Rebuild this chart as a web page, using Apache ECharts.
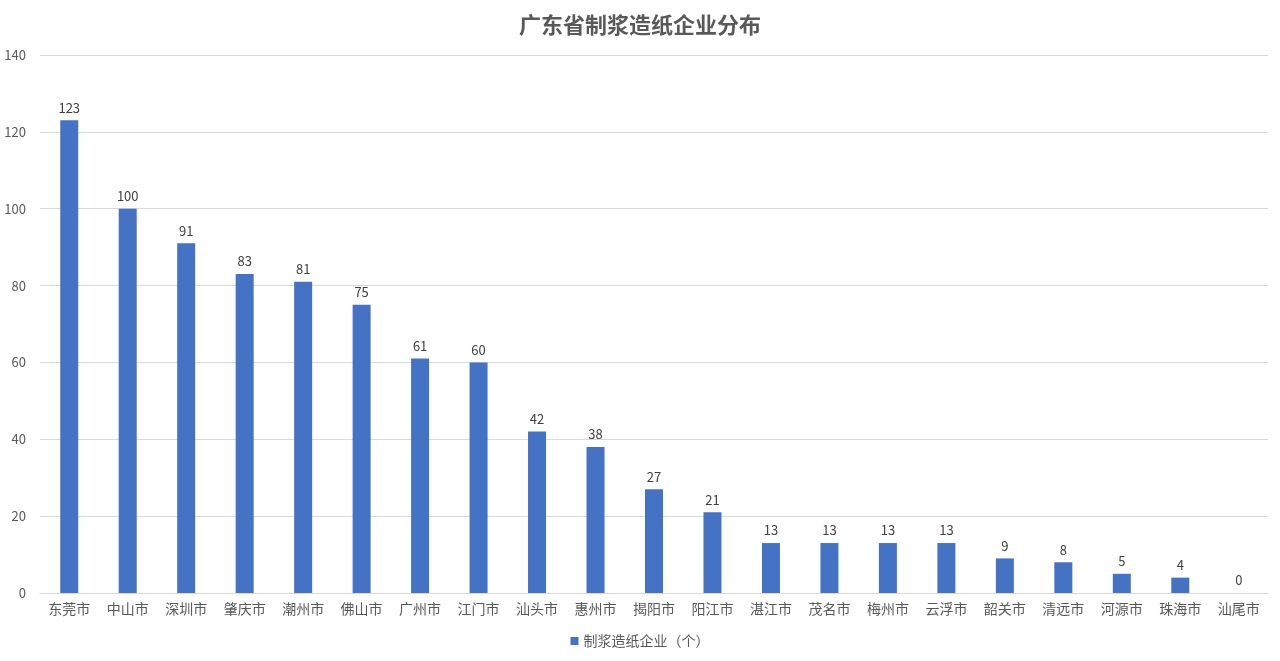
<!DOCTYPE html>
<html><head><meta charset="utf-8">
<script src="https://cdn.jsdelivr.net/npm/echarts@6/dist/echarts.min.js"></script>
<style>html,body{margin:0;padding:0;background:#fff}#c{width:1280px;height:661px}</style>
</head><body><div id="c"></div>
<script>
const categories = ['东莞市','中山市','深圳市','肇庆市','潮州市','佛山市','广州市','江门市','汕头市','惠州市','揭阳市','阳江市','湛江市','茂名市','梅州市','云浮市','韶关市','清远市','河源市','珠海市','汕尾市'];
const values = [123,100,91,83,81,75,61,60,42,38,27,21,13,13,13,13,9,8,5,4,0];
const seriesName = '制浆造纸企业（个）';
const titleText = '广东省制浆造纸企业分布';
const font = '"Noto Sans CJK SC", "Microsoft YaHei", sans-serif';
const chart = echarts.init(document.getElementById('c'));
chart.setOption({
  animation:false,
  textStyle:{fontFamily:font},
  title:{text:titleText,left:'center',top:9,textStyle:{fontSize:22,fontWeight:'bold',color:'#595959',fontFamily:font}},
  grid:{left:40,right:12,top:55,bottom:68},
  legend:{bottom:8,left:'center',itemWidth:8,itemHeight:8,itemGap:4,icon:'rect',textStyle:{fontSize:14,color:'#595959',fontFamily:font},data:[seriesName]},
  xAxis:{type:'category',data:categories,axisTick:{show:false},axisLine:{lineStyle:{color:'#d9d9d9'}},axisLabel:{fontSize:14,color:'#595959',margin:9,interval:0}},
  yAxis:{type:'value',min:0,max:140,interval:20,axisLine:{show:false},axisTick:{show:false},splitLine:{lineStyle:{color:'#d9d9d9'}},axisLabel:{fontSize:13,color:'#595959',margin:14}},
  series:[{name:seriesName,type:'bar',data:values,barWidth:18,itemStyle:{color:'#4472c4'},label:{show:true,position:'top',fontSize:13,color:'#404040',distance:6}}]
});
</script></body></html>
